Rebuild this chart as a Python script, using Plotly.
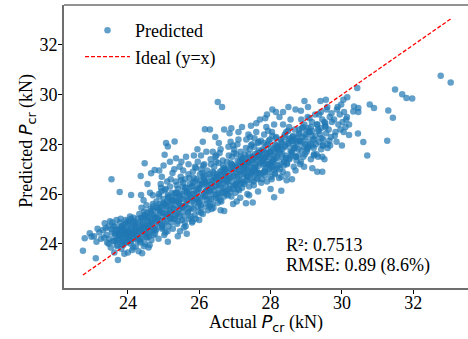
import plotly.graph_objects as go

# ---- data (Actual vs Predicted P_cr, kN) ----
actual_pcr = [
    22.74, 22.79, 22.93, 23.12, 23.10, 23.05, 23.20, 23.25, 22.98, 23.15,
    23.30, 23.35, 23.40, 23.42, 23.45, 23.48, 23.50, 23.52, 23.55, 23.58,
    23.60, 23.62, 23.65, 23.68, 23.70, 23.72, 23.74, 23.38, 23.46, 23.56,
    23.64, 23.70, 23.33, 23.54, 23.54, 23.77,
    23.76, 23.78, 23.80, 23.82, 23.84, 23.86, 23.88, 23.90, 23.92, 23.94,
    23.96, 23.98, 24.00, 24.02, 24.04, 24.06, 24.08, 24.10, 24.12, 24.14,
    24.16, 24.18, 24.20, 24.22, 24.24, 23.79, 23.83, 23.87, 23.91, 23.95,
    23.99, 24.03, 24.07, 24.11, 24.15, 24.19, 24.23, 23.85, 23.97, 24.09,
    24.09, 24.37,
    24.26, 24.28, 24.30, 24.32, 24.34, 24.36, 24.38, 24.40, 24.42, 24.44,
    24.46, 24.48, 24.50, 24.52, 24.54, 24.56, 24.58, 24.60, 24.62, 24.64,
    24.66, 24.68, 24.70, 24.72, 24.74, 24.29, 24.33, 24.37, 24.41, 24.45,
    24.49, 24.53, 24.57, 24.61, 24.65, 24.69, 24.73, 24.35, 24.47, 24.59,
    24.71, 24.43, 24.55, 24.47, 24.36, 24.65, 24.75, 24.55, 24.62, 24.70,
    24.44,
    24.76, 24.78, 24.80, 24.82, 24.84, 24.86, 24.88, 24.90, 24.92, 24.94,
    24.96, 24.98, 25.00, 25.02, 25.04, 25.06, 25.08, 25.10, 25.12, 25.14,
    25.16, 25.18, 25.20, 25.22, 25.24, 24.79, 24.83, 24.87, 24.91, 24.95,
    24.99, 25.03, 25.07, 25.11, 25.15, 25.19, 25.23, 24.85, 24.97, 25.09,
    25.21, 24.93, 25.05, 25.12, 25.07, 25.12, 25.03, 24.88, 24.95, 25.00,
    25.10, 25.18, 24.92, 25.25, 25.20,
    25.26, 25.28, 25.30, 25.32, 25.34, 25.36, 25.38, 25.40, 25.42, 25.44,
    25.46, 25.48, 25.50, 25.52, 25.54, 25.56, 25.58, 25.60, 25.62, 25.64,
    25.66, 25.68, 25.70, 25.72, 25.74, 25.29, 25.33, 25.37, 25.41, 25.45,
    25.49, 25.53, 25.57, 25.61, 25.65, 25.69, 25.73, 25.35, 25.47, 25.59,
    25.71, 25.43, 25.55, 25.31, 25.35, 25.63, 25.45, 25.55, 25.70, 25.40,
    25.65, 25.50, 25.30,
    25.76, 25.78, 25.80, 25.82, 25.84, 25.86, 25.88, 25.90, 25.92, 25.94,
    25.96, 25.98, 26.00, 26.02, 26.04, 26.06, 26.08, 26.10, 26.12, 26.14,
    26.16, 26.18, 26.20, 26.22, 26.24, 25.79, 25.83, 25.87, 25.91, 25.95,
    25.99, 26.03, 26.07, 26.11, 26.15, 26.19, 26.23, 25.85, 25.97, 26.09,
    26.21, 25.93, 26.05, 26.17, 25.81, 26.16, 25.95, 26.05, 26.20, 25.85,
    26.10, 25.80, 26.00,
    26.26, 26.28, 26.30, 26.32, 26.34, 26.36, 26.38, 26.40, 26.42, 26.44,
    26.46, 26.48, 26.50, 26.52, 26.54, 26.56, 26.58, 26.60, 26.62, 26.64,
    26.66, 26.68, 26.70, 26.72, 26.74, 26.29, 26.33, 26.37, 26.41, 26.45,
    26.49, 26.53, 26.57, 26.61, 26.65, 26.69, 26.73, 26.35, 26.47, 26.59,
    26.71, 26.43, 26.55, 26.67, 26.31, 26.52, 26.64, 26.30, 26.45, 26.70,
    26.55, 26.35, 26.70, 26.60,
    26.76, 26.78, 26.80, 26.82, 26.84, 26.86, 26.88, 26.90, 26.92, 26.94,
    26.96, 26.98, 27.00, 27.02, 27.04, 27.06, 27.08, 27.10, 27.12, 27.14,
    27.16, 27.18, 27.20, 27.22, 27.24, 26.79, 26.83, 26.87, 26.91, 26.95,
    26.99, 27.03, 27.07, 27.11, 27.15, 27.19, 27.23, 26.85, 26.97, 27.09,
    27.21, 26.93, 27.05, 27.17, 26.81, 26.90, 27.10, 26.85, 27.20, 26.95,
    27.15, 27.05,
    27.26, 27.28, 27.30, 27.32, 27.34, 27.36, 27.38, 27.40, 27.42, 27.44,
    27.46, 27.48, 27.50, 27.52, 27.54, 27.56, 27.58, 27.60, 27.62, 27.64,
    27.66, 27.68, 27.70, 27.72, 27.74, 27.27, 27.31, 27.35, 27.39, 27.43,
    27.47, 27.51, 27.55, 27.59, 27.63, 27.67, 27.71, 27.33, 27.45, 27.57,
    27.69, 27.41, 27.53, 27.65, 27.29, 27.37, 27.49, 27.61, 27.73, 27.55,
    27.31, 27.50, 27.40, 27.60, 27.45, 27.70, 27.35, 27.65,
    27.76, 27.78, 27.80, 27.82, 27.84, 27.86, 27.88, 27.90, 27.92, 27.94,
    27.96, 27.98, 28.00, 28.02, 28.04, 28.06, 28.08, 28.10, 28.12, 28.14,
    28.16, 28.18, 28.20, 28.22, 28.24, 27.77, 27.81, 27.85, 27.89, 27.93,
    27.97, 28.01, 28.05, 28.09, 28.13, 28.17, 28.21, 27.83, 27.95, 28.07,
    28.19, 27.91, 28.03, 28.15, 27.79, 27.87, 27.99, 28.11, 28.10, 28.30,
    28.00, 27.90, 28.05, 28.15, 27.85, 28.25,
    28.26, 28.29, 28.32, 28.35, 28.38, 28.41, 28.44, 28.47, 28.50, 28.53,
    28.56, 28.59, 28.62, 28.65, 28.68, 28.71, 28.74, 28.28, 28.34, 28.40,
    28.46, 28.52, 28.58, 28.64, 28.70, 28.31, 28.43, 28.55, 28.67, 28.37,
    28.49, 28.61, 28.73, 28.50, 28.35, 28.70, 28.45, 28.60, 28.30,
    28.77, 28.80, 28.83, 28.86, 28.89, 28.92, 28.95, 28.98, 29.01, 29.04,
    29.07, 29.10, 29.13, 29.16, 29.19, 29.22, 29.25, 28.79, 28.85, 28.91,
    28.97, 29.03, 29.09, 29.15, 29.21, 28.82, 28.94, 29.06, 29.18, 28.95,
    29.17, 29.05, 28.85,
    29.27, 29.30, 29.33, 29.36, 29.39, 29.42, 29.45, 29.48, 29.51, 29.54,
    29.57, 29.60, 29.63, 29.66, 29.69, 29.72, 29.29, 29.35, 29.41, 29.47,
    29.53, 29.59, 29.65, 29.71, 29.31, 29.45, 29.45, 29.55, 29.40, 29.60,
    29.67,
    29.78, 29.82, 29.86, 29.90, 29.94, 29.98, 30.02, 30.06, 30.10, 30.14,
    29.80, 29.88, 29.96, 30.04, 30.12, 30.20, 30.00, 30.15, 30.20, 29.85,
    30.05,
    30.43, 30.34, 30.46, 30.46, 30.32, 30.45, 30.60, 30.71, 30.78, 30.90,
    31.30, 31.43, 31.27, 31.49, 31.69, 31.81, 31.97, 32.77, 33.05,
]

predicted_pcr = [
    23.72, 24.22, 24.42, 24.08, 23.41, 24.30, 24.45, 24.20, 24.28, 24.60,
    24.55, 24.82, 24.35, 24.05, 24.68, 24.20, 24.90, 23.85, 24.45, 24.10,
    24.70, 23.65, 24.30, 24.95, 24.55, 23.34, 24.15, 24.62, 24.00, 24.85,
    24.40, 23.90, 24.25, 24.58, 26.60, 26.08,
    24.60, 24.20, 25.00, 23.80, 24.45, 24.10, 24.75, 23.60, 24.35, 24.95,
    24.05, 24.55, 23.65, 24.85, 24.30, 25.10, 24.00, 24.65, 23.75, 24.40,
    25.05, 24.20, 24.80, 23.90, 24.50, 24.35, 24.70, 23.95, 24.50, 24.25,
    24.90, 24.15, 24.60, 24.45, 23.85, 24.70, 24.30, 24.55, 24.40, 25.00,
    25.96, 25.96,
    24.30, 24.85, 23.70, 25.20, 24.10, 24.60, 25.45, 23.62, 24.95, 24.40,
    25.30, 24.00, 24.70, 25.55, 24.25, 24.90, 23.85, 25.10, 24.50, 25.40,
    24.15, 24.80, 25.60, 24.35, 25.00, 24.55, 24.20, 25.05, 24.75, 23.90,
    24.45, 25.25, 24.65, 23.95, 24.85, 25.35, 24.60, 24.05, 25.15, 24.30,
    25.50, 24.65, 25.05, 27.24, 26.73, 26.84, 26.97, 26.40, 26.05, 25.95,
    25.75,
    24.40, 25.10, 25.70, 24.80, 25.35, 24.20, 25.90, 24.95, 25.50, 26.10,
    24.60, 25.25, 25.80, 24.35, 25.60, 26.20, 24.90, 25.40, 25.95, 24.70,
    25.15, 26.30, 25.55, 24.85, 25.75, 24.55, 25.05, 26.00, 25.30, 24.75,
    25.65, 26.15, 25.20, 24.50, 25.85, 25.00, 26.05, 25.45, 24.65, 25.70,
    25.25, 26.25, 24.45, 24.08, 28.05, 27.91, 27.58, 26.95, 26.70, 27.15,
    26.50, 27.30, 26.40, 26.85, 26.60,
    24.60, 25.40, 26.00, 25.00, 26.50, 25.70, 24.80, 26.20, 25.20, 25.90,
    24.50, 26.70, 25.50, 24.95, 26.30, 25.80, 25.10, 26.60, 24.70, 25.60,
    26.10, 25.30, 26.80, 25.00, 26.40, 25.75, 25.15, 26.35, 24.90, 25.95,
    26.55, 25.45, 24.65, 26.25, 25.85, 25.25, 26.65, 26.05, 25.55, 24.85,
    26.00, 25.65, 26.45, 28.11, 27.44, 27.50, 27.10, 26.95, 27.20, 24.30,
    24.40, 27.30, 27.00,
    25.10, 26.30, 25.70, 26.90, 25.40, 26.00, 27.10, 25.00, 26.60, 25.80,
    27.30, 25.30, 26.20, 26.80, 25.55, 27.00, 26.40, 25.20, 26.70, 27.20,
    25.90, 26.10, 25.60, 26.95, 25.35, 25.85, 26.45, 25.15, 27.05, 26.25,
    25.65, 26.55, 25.45, 27.15, 26.75, 25.95, 26.35, 26.65, 25.75, 26.85,
    26.15, 26.05, 25.25, 26.50, 24.90, 28.61, 27.80, 27.55, 27.70, 27.55,
    28.10, 24.85, 24.95,
    25.50, 26.80, 26.10, 27.40, 25.80, 26.50, 27.70, 25.45, 27.10, 26.30,
    25.95, 27.55, 26.70, 25.65, 27.25, 26.00, 26.90, 27.80, 25.70, 26.60,
    27.35, 26.20, 25.90, 27.00, 26.40, 26.15, 27.20, 25.60, 26.85, 27.50,
    26.35, 25.85, 27.65, 26.55, 26.05, 27.05, 26.75, 26.25, 27.30, 25.75,
    26.95, 26.65, 26.45, 27.15, 25.55, 29.70, 29.50, 28.60, 28.30, 28.60,
    28.05, 25.40, 25.32, 25.35,
    26.00, 27.30, 26.60, 27.90, 26.20, 27.00, 28.10, 25.90, 27.50, 26.70,
    26.30, 27.80, 27.10, 26.05, 27.60, 26.45, 27.35, 28.20, 26.15, 26.90,
    27.70, 26.55, 26.25, 27.45, 26.80, 26.50, 27.55, 26.10, 27.20, 27.95,
    26.75, 26.35, 28.00, 26.95, 26.40, 27.40, 27.05, 26.65, 27.65, 26.20,
    27.25, 27.15, 26.85, 27.50, 25.95, 28.65, 28.50, 28.45, 28.70, 25.60,
    25.85, 25.70,
    26.40, 27.60, 27.00, 28.20, 26.70, 27.30, 28.40, 26.30, 27.80, 27.10,
    26.80, 28.00, 27.40, 26.50, 27.90, 26.95, 27.20, 28.50, 26.60, 27.50,
    28.10, 26.85, 27.25, 27.70, 26.45, 27.15, 27.85, 26.55, 27.45, 28.30,
    26.90, 27.05, 28.25, 27.35, 26.65, 27.75, 27.55, 26.75, 27.95, 27.10,
    27.65, 27.30, 26.35, 28.05, 27.20, 26.95, 27.50, 26.85, 28.15, 27.60,
    25.63, 25.66, 25.95, 28.85, 28.75, 29.00, 26.00, 26.10,
    26.60, 27.80, 27.20, 28.40, 26.90, 27.50, 28.70, 26.50, 28.00, 27.30,
    27.00, 28.20, 27.60, 26.70, 28.50, 27.10, 27.40, 28.80, 26.80, 27.70,
    28.30, 27.05, 27.45, 27.90, 26.65, 27.35, 28.05, 26.75, 27.65, 28.55,
    27.15, 27.25, 28.35, 27.55, 26.85, 27.95, 27.75, 26.95, 28.15, 27.30,
    27.85, 27.50, 26.60, 28.25, 27.40, 27.20, 27.70, 27.00, 25.87, 26.13,
    26.20, 29.20, 29.40, 29.30, 29.05, 29.10,
    27.00, 28.20, 27.60, 28.80, 27.30, 27.90, 28.50, 26.80, 28.00, 27.40,
    29.00, 27.70, 28.30, 27.10, 28.60, 27.50, 28.10, 27.80, 26.90, 28.40,
    27.20, 28.70, 27.55, 27.95, 26.95, 28.05, 27.45, 28.25, 27.85, 27.15,
    28.55, 28.15, 27.35, 29.50, 29.30, 29.40, 26.55, 26.60, 26.70,
    27.80, 28.60, 27.20, 29.00, 28.10, 27.50, 28.80, 28.30, 27.70, 29.10,
    27.90, 28.50, 27.40, 28.90, 28.20, 27.60, 29.20, 28.40, 27.30, 28.70,
    28.00, 27.85, 29.05, 28.35, 27.55, 28.15, 27.10, 28.65, 27.95, 29.75,
    27.04, 29.50, 29.35,
    28.00, 28.80, 27.50, 29.20, 28.40, 27.80, 29.00, 28.20, 27.40, 28.70,
    29.40, 28.00, 28.60, 29.10, 28.30, 28.90, 27.60, 28.55, 29.30, 27.95,
    28.85, 29.50, 28.15, 29.25, 26.90, 26.90, 27.50, 29.80, 29.75, 27.85,
    27.95,
    29.00, 28.50, 29.40, 28.80, 29.20, 29.60, 28.90, 29.30, 28.70, 29.10,
    28.35, 29.50, 28.60, 29.80, 29.00, 28.80, 27.95, 29.90, 28.38, 28.10,
    28.50,
    30.27, 29.52, 29.46, 29.30, 29.32, 28.44, 28.09, 27.55, 29.60, 29.46,
    29.36, 29.07, 28.15, 30.21, 30.02, 29.87, 29.85, 30.76, 30.49,
]

# extra points of the dense core of the cloud
actual_core = [
    23.61, 23.66, 23.71, 23.76, 23.81, 23.86, 23.91, 23.96, 24.01, 24.06,
    23.63, 23.68, 23.73, 23.78, 23.83, 23.88, 23.93, 23.98, 24.03, 24.08,
    24.11, 24.16, 24.21, 24.26, 24.31, 24.36, 24.41, 24.46, 24.51, 24.56,
    24.13, 24.18, 24.23, 24.28, 24.33, 24.38, 24.43, 24.48, 24.53, 24.58,
    24.61, 24.66, 24.71, 24.76, 24.81, 24.86, 24.91, 24.96, 25.01, 25.06,
    24.63, 24.68, 24.73, 24.78, 24.83, 24.88, 24.93, 24.98, 25.03, 25.08,
    25.11, 25.16, 25.21, 25.26, 25.31, 25.36, 25.41, 25.46, 25.51, 25.56,
    25.13, 25.18, 25.23, 25.28, 25.33, 25.38, 25.43, 25.48, 25.53, 25.58,
    25.61, 25.66, 25.71, 25.76, 25.81, 25.86, 25.91, 25.96, 26.01, 26.06,
    25.63, 25.68, 25.73, 25.78, 25.83, 25.88, 25.93, 25.98, 26.03, 26.08,
    26.11, 26.16, 26.21, 26.26, 26.31, 26.36, 26.41, 26.46, 26.51, 26.56,
    26.13, 26.18, 26.23, 26.28, 26.33, 26.38, 26.43, 26.48, 26.53, 26.58,
    26.61, 26.66, 26.71, 26.76, 26.81, 26.86, 26.91, 26.96, 27.01, 27.06,
    26.63, 26.68, 26.73, 26.78, 26.83, 26.88, 26.93, 26.98, 27.03, 27.08,
    27.11, 27.16, 27.21, 27.26, 27.31, 27.36, 27.41, 27.46, 27.51, 27.56,
    27.13, 27.18, 27.23, 27.28, 27.33, 27.38, 27.43, 27.48, 27.53, 27.58,
    27.61, 27.66, 27.71, 27.76, 27.81, 27.86, 27.91, 27.96, 28.01, 28.06,
    27.63, 27.68, 27.73, 27.78, 27.83, 27.88, 27.93, 27.98, 28.03, 28.08,
    28.11, 28.16, 28.21, 28.26, 28.31, 28.36, 28.41, 28.46, 28.51, 28.56,
    28.13, 28.18, 28.23, 28.28, 28.33, 28.38, 28.43, 28.48, 28.53, 28.58,
    28.61, 28.66, 28.71, 28.76, 28.81, 28.86, 28.91, 28.96, 29.01, 29.06,
    28.63, 28.68, 28.73, 28.78, 28.83, 28.88, 28.93, 28.98, 29.03, 29.08,
    29.11, 29.16, 29.21, 29.26, 29.31, 29.36, 29.41, 29.46, 29.51, 29.56,
    29.13, 29.23, 29.33, 29.43, 29.53,
]

predicted_core = [
    24.10, 24.50, 23.95, 24.35, 24.65, 24.25, 24.05, 24.45, 24.75, 24.20,
    24.70, 24.15, 24.40, 24.85, 24.00, 24.60, 24.80, 24.30, 24.50, 24.10,
    24.35, 24.90, 24.55, 24.15, 24.75, 24.45, 25.05, 24.60, 24.25, 24.95,
    24.85, 24.40, 24.65, 25.00, 24.50, 24.20, 24.80, 25.15, 24.70, 24.40,
    24.75, 25.20, 24.55, 25.05, 25.45, 24.85, 25.25, 24.70, 25.55, 25.10,
    25.30, 24.90, 25.15, 24.60, 25.00, 25.60, 25.35, 25.10, 24.85, 25.50,
    25.20, 25.65, 25.05, 25.45, 25.85, 25.25, 25.70, 25.10, 26.00, 25.50,
    25.90, 25.35, 25.75, 25.00, 25.55, 26.05, 25.40, 25.80, 25.30, 26.10,
    25.55, 26.05, 25.40, 25.85, 26.30, 25.65, 26.15, 25.50, 26.40, 25.95,
    26.25, 25.75, 26.10, 25.45, 26.00, 26.50, 25.80, 26.20, 25.70, 26.35,
    25.90, 26.45, 25.75, 26.25, 26.70, 26.00, 26.55, 25.85, 26.80, 26.35,
    26.60, 26.10, 26.50, 25.80, 26.40, 26.90, 26.15, 26.65, 26.05, 26.75,
    26.25, 26.80, 26.10, 26.60, 27.05, 26.35, 26.90, 26.20, 27.15, 26.70,
    26.95, 26.45, 26.85, 26.15, 26.75, 27.25, 26.50, 27.00, 26.40, 27.10,
    26.60, 27.15, 26.45, 26.95, 27.40, 26.70, 27.25, 26.55, 27.50, 27.05,
    27.30, 26.80, 27.20, 26.50, 27.10, 27.60, 26.85, 27.35, 26.75, 27.45,
    26.95, 27.50, 26.80, 27.30, 27.75, 27.05, 27.60, 26.90, 27.85, 27.40,
    27.65, 27.15, 27.55, 26.85, 27.45, 27.95, 27.20, 27.70, 27.10, 27.80,
    27.30, 27.85, 27.15, 27.65, 28.10, 27.40, 27.95, 27.25, 28.20, 27.75,
    28.00, 27.50, 27.90, 27.20, 27.80, 28.30, 27.55, 28.05, 27.45, 28.15,
    27.65, 28.20, 27.50, 28.00, 28.45, 27.75, 28.30, 27.60, 28.55, 28.10,
    28.35, 27.85, 28.25, 27.55, 28.15, 28.65, 27.90, 28.40, 27.80, 28.50,
    28.00, 28.55, 27.85, 28.35, 28.80, 28.10, 28.65, 27.95, 28.90, 28.45,
    28.70, 28.20, 28.60, 28.25, 28.75,
]

x_ticks = [24, 26, 28, 30, 32]
y_ticks = [24, 26, 28, 30, 32]
r2_text = "R²: 0.7513"
rmse_text = "RMSE: 0.89 (8.6%)"

SERIF = "Liberation Serif, Times New Roman, serif"
SANS = "DejaVu Sans"
SPINE = "#6e6e6e"

all_actual = actual_pcr + actual_core
all_predicted = predicted_pcr + predicted_core
ideal_range = [min(all_actual), max(all_actual)]

fig = go.Figure()
fig.add_trace(go.Scatter(
    x=all_actual, y=all_predicted, mode="markers", name="Predicted",
    marker=dict(color="#1f77b4", size=6.5, opacity=0.7, line=dict(width=0)),
))
fig.add_trace(go.Scatter(
    x=ideal_range, y=ideal_range, mode="lines", name="Ideal (y=x)",
    line=dict(color="red", width=1.3, dash="4px,2px"),
))

pcr = f'<span style="font-family:{SANS}"><i>P</i><sub>cr</sub></span>'

fig.update_layout(
    width=468, height=339,
    margin=dict(l=64, r=0, t=5, b=51),
    paper_bgcolor="white", plot_bgcolor="white",
    font=dict(family=SERIF, size=18, color="black"),
    showlegend=True,
    legend=dict(
        x=16 / 404, y=0.975, xanchor="left", yanchor="top",
        bgcolor="rgba(0,0,0,0)", borderwidth=0,
        font=dict(family=SERIF, size=18, color="black"),
        itemwidth=45, tracegroupgap=0,
    ),
    xaxis=dict(
        range=[22.209, 33.535], tickvals=x_ticks, ticktext=[str(v) for v in x_ticks],
        showgrid=False, zeroline=False, showline=True, linecolor=SPINE, linewidth=1.6,
        ticks="outside", ticklen=4, tickwidth=1, tickcolor="black",
        ticklabelstandoff=-6,
        tickfont=dict(family=SERIF, size=18, color="black"),
    ),
    yaxis=dict(
        range=[22.217, 33.61], tickvals=y_ticks, ticktext=[str(v) for v in y_ticks],
        showgrid=False, zeroline=False, showline=True, linecolor=SPINE, linewidth=1.6,
        ticks="outside", ticklen=4, tickwidth=1, tickcolor="black",
        ticklabelstandoff=-3,
        tickfont=dict(family=SERIF, size=18, color="black"),
    ),
    shapes=[dict(type="line", xref="paper", yref="paper", x0=0, x1=1, y0=1, y1=1,
                 line=dict(color=SPINE, width=1.6))],
    annotations=[
        dict(text=f"Actual {pcr} (kN)", xref="paper", yref="paper", x=0.5, y=0,
             xanchor="center", yanchor="middle", yshift=-35, showarrow=False,
             font=dict(family=SERIF, size=18, color="black")),
        dict(text=f"Predicted {pcr} (kN)", xref="paper", yref="paper", x=0, y=0.52,
             xanchor="center", yanchor="middle", xshift=-37, textangle=-90, showarrow=False,
             font=dict(family=SERIF, size=18, color="black")),
        dict(text=r2_text, xref="paper", yref="paper", x=0.5446, y=(288 - 245) / 283,
             xanchor="left", yanchor="middle", align="left", showarrow=False,
             font=dict(family=SERIF, size=18, color="black")),
        dict(text=rmse_text, xref="paper", yref="paper", x=0.5446, y=(288 - 265) / 283,
             xanchor="left", yanchor="middle", align="left", showarrow=False,
             font=dict(family=SERIF, size=18, color="black")),
    ],
)

fig.write_html("out.html")
